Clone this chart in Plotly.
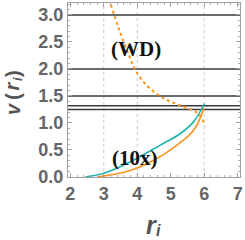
import plotly.graph_objects as go

# dashed orange curve (WD)
wd_r = [3.21, 3.44, 3.74, 3.99, 4.34, 4.84, 5.43, 5.83, 6.03]
wd_v = [3.19, 2.76, 2.27, 1.93, 1.66, 1.44, 1.29, 1.17, 0.95]
# teal solid curve
teal_r = [2.45, 3.0, 3.69, 4.69, 5.28, 5.68, 6.01]
teal_v = [0.0, 0.07, 0.25, 0.59, 0.80, 1.02, 1.36]
# orange solid curve
orng_r = [2.8, 3.69, 4.49, 5.19, 5.69, 5.99]
orng_v = [0.0, 0.10, 0.31, 0.59, 0.87, 1.27]
# horizontal levels
levels = [3.0, 2.0, 1.5, 1.32, 1.25]
grid_x = [3, 4, 6]
x_ticks = [2, 3, 4, 5, 6, 7]
y_ticks = [0.0, 0.5, 1.0, 1.5, 2.0, 2.5, 3.0]

X0, X1 = 1.93, 7.07
Y0, Y1 = 0.0, 3.22

fig = go.Figure()
for gx in grid_x:
    fig.add_trace(go.Scatter(x=[gx, gx], y=[Y0, Y1], mode="lines",
                             line=dict(color="#c8c8c8", width=1, dash="dot"),
                             showlegend=False, hoverinfo="skip"))
for lv in levels:
    fig.add_trace(go.Scatter(x=[X0, X1], y=[lv, lv], mode="lines",
                             line=dict(color="#3a3a3a", width=1.5),
                             showlegend=False))
fig.add_trace(go.Scatter(x=wd_r, y=wd_v, mode="lines", line_shape="spline",
                         line=dict(color="#f7941d", width=2, dash="dot"), showlegend=False))
fig.add_trace(go.Scatter(x=teal_r, y=teal_v, mode="lines", line_shape="spline",
                         line=dict(color="#1db3ad", width=1.6), showlegend=False))
fig.add_trace(go.Scatter(x=orng_r, y=orng_v, mode="lines", line_shape="spline",
                         line=dict(color="#f7941d", width=1.6), showlegend=False))

fig.add_annotation(x=3.95, y=2.36, text="<b>(WD)</b>", showarrow=False,
                   font=dict(family="Liberation Serif", size=21, color="#111"))
fig.add_annotation(x=3.93, y=0.35, text="<b>(10x)</b>", showarrow=False,
                   font=dict(family="Liberation Serif", size=21, color="#111"))

# axis titles built from pieces (x label: r_i ; y label: v(r_i), rotated)
TCOL = "#555555"
def piece(text, x, y, size, angle=0):
    fig.add_annotation(xref="paper", yref="paper", x=x, y=y, textangle=angle,
                       xanchor="center", yanchor="middle", text=text, showarrow=False,
                       font=dict(family="Liberation Sans", size=size, color=TCOL))

piece("<b><i>r</i></b>", 0.488, -0.276, 25)
piece("<b><i>i</i></b>", 0.526, -0.310, 16)
piece("<b><i>v</i></b>", -0.320, 0.397, 20, -90)
piece("<b>(</b>", -0.320, 0.466, 20, -90)
piece("<b><i>r</i></b>", -0.320, 0.526, 20, -90)
piece("<b><i>i</i></b>", -0.297, 0.563, 13, -90)
piece("<b>)</b>", -0.320, 0.598, 20, -90)

tickfont = dict(family="Liberation Sans", size=18, color="#666666")
fig.update_xaxes(range=[X0, X1], tickvals=x_ticks, ticktext=[f"<b>{t}</b>" for t in x_ticks],
                 showgrid=False, zeroline=False, showline=True, linecolor="#a0a0a0",
                 mirror="ticks", ticks="inside", ticklen=4, tickcolor="#a0a0a0",
                 minor=dict(ticks="inside", ticklen=2, dtick=0.2, tickcolor="#b0b0b0"),
                 tickfont=tickfont, automargin=False)
fig.update_yaxes(range=[Y0, Y1], tickvals=y_ticks, ticktext=[f"<b>{t:.1f}</b>" for t in y_ticks],
                 showgrid=False, zeroline=False, showline=True, linecolor="#a0a0a0",
                 mirror="ticks", ticks="inside", ticklen=4, tickcolor="#a0a0a0",
                 minor=dict(ticks="inside", ticklen=2, dtick=0.1, tickcolor="#b0b0b0"),
                 tickfont=tickfont, automargin=False)
fig.update_layout(width=245, height=240, margin=dict(l=68, r=5, t=3, b=63),
                  plot_bgcolor="white", paper_bgcolor="white")
fig.write_html("out.html", config={"displayModeBar": False},
               post_script="document.body.style.margin='0';document.body.style.padding='0';")
